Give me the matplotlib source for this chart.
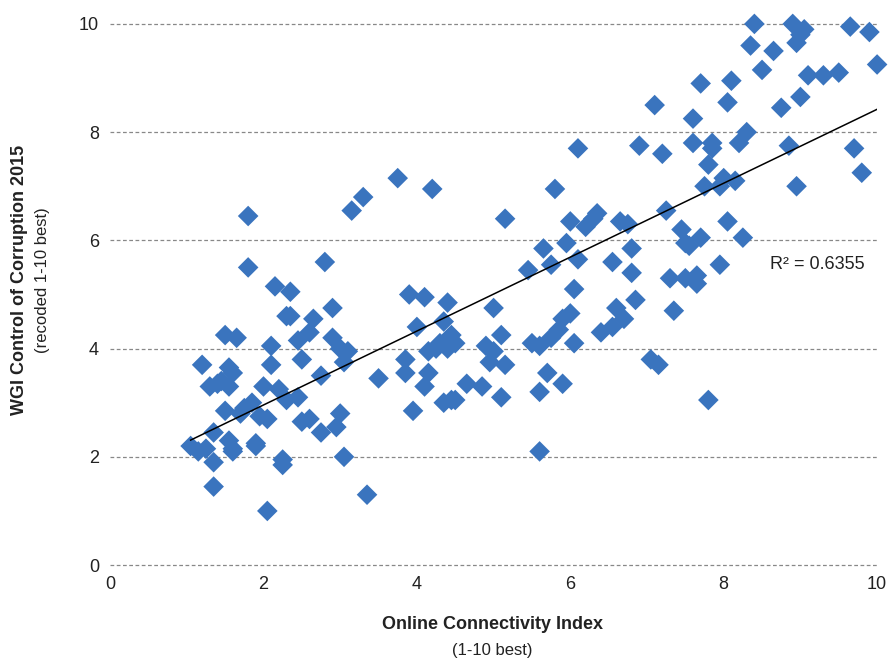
import matplotlib
matplotlib.use('Agg')
import matplotlib.pyplot as plt
import numpy as np

plt.rcParams['font.family'] = ['Liberation Sans', 'DejaVu Sans']

# online connectivity index (x) vs WGI control of corruption (y)
connectivity = [
    1.05, 1.15, 1.2, 1.25, 1.3, 1.35, 1.35, 1.35, 1.4, 1.45,
    1.5, 1.5, 1.55, 1.55, 1.55, 1.6, 1.6, 1.65, 1.6, 1.7,
    1.75, 1.8, 1.8, 1.85, 1.9, 1.9, 1.95, 2.0, 2.05, 2.05,
    2.1, 2.1, 2.15, 2.25, 2.25, 2.2, 2.3, 2.3, 2.35, 2.35,
    2.45, 2.45, 2.5, 2.5, 2.6, 2.6, 2.65, 2.75, 2.75, 2.8,
    2.9, 2.9, 2.95, 3.0, 3.0, 3.05, 3.05, 3.1, 3.15, 3.3,
    3.35, 3.5, 3.75, 3.85, 3.85, 3.9, 4.0, 3.95, 4.1, 4.1,
    4.15, 4.15, 4.2, 4.25, 4.3, 4.35, 4.35, 4.4, 4.4, 4.45,
    4.45, 4.5, 4.5, 4.65, 4.85, 4.9, 4.95, 5.0, 5.0, 5.1,
    5.1, 5.15, 5.15, 5.45, 5.5, 5.6, 5.6, 5.6, 5.65, 5.7,
    5.75, 5.75, 5.8, 5.85, 5.9, 5.9, 5.95, 6.0, 6.0, 6.05,
    6.05, 6.1, 6.1, 6.2, 6.3, 6.35, 6.4, 6.55, 6.55, 6.6,
    6.65, 6.7, 6.75, 6.8, 6.8, 6.85, 6.9, 7.05, 7.1, 7.15,
    7.2, 7.25, 7.3, 7.35, 7.45, 7.5, 7.5, 7.55, 7.6, 7.6,
    7.65, 7.65, 7.7, 7.7, 7.75, 7.8, 7.8, 7.85, 7.85, 7.95,
    7.95, 8.0, 8.05, 8.05, 8.1, 8.25, 8.15, 8.2, 8.3, 8.35,
    8.4, 8.5, 8.65, 8.75, 8.85, 8.9, 8.95, 8.95, 9.0, 9.0,
    9.05, 9.1, 9.3, 9.5, 9.65, 9.7, 9.8, 9.9, 10.0,
]
corruption = [
    2.2, 2.1, 3.7, 2.15, 3.3, 1.9, 2.45, 1.45, 3.35, 3.4,
    2.85, 4.25, 3.3, 3.65, 2.3, 2.15, 3.55, 4.2, 2.1, 2.8,
    2.9, 6.45, 5.5, 3.0, 2.25, 2.2, 2.75, 3.3, 2.7, 1.0,
    4.05, 3.7, 5.15, 1.95, 1.85, 3.25, 3.05, 4.6, 5.05, 4.6,
    3.1, 4.15, 3.8, 2.65, 4.3, 2.7, 4.55, 2.45, 3.5, 5.6,
    4.75, 4.2, 2.55, 2.8, 4.0, 2.0, 3.75, 3.95, 6.55, 6.8,
    1.3, 3.45, 7.15, 3.8, 3.55, 5.0, 4.4, 2.85, 4.95, 3.3,
    3.95, 3.55, 6.95, 4.0, 4.1, 4.5, 3.0, 4.85, 4.0, 4.25,
    3.05, 4.1, 3.05, 3.35, 3.3, 4.05, 3.75, 4.75, 3.95, 4.25,
    3.1, 6.4, 3.7, 5.45, 4.1, 4.05, 3.2, 2.1, 5.85, 3.55,
    4.2, 5.55, 6.95, 4.35, 4.55, 3.35, 5.95, 4.65, 6.35, 5.1,
    4.1, 5.65, 7.7, 6.25, 6.4, 6.5, 4.3, 5.6, 4.4, 4.75,
    6.35, 4.55, 6.3, 5.85, 5.4, 4.9, 7.75, 3.8, 8.5, 3.7,
    7.6, 6.55, 5.3, 4.7, 6.2, 5.95, 5.3, 5.9, 8.25, 7.8,
    5.2, 5.35, 6.05, 8.9, 7.0, 3.05, 7.4, 7.8, 7.7, 7.0,
    5.55, 7.15, 8.55, 6.35, 8.95, 6.05, 7.1, 7.8, 8.0, 9.6,
    10.0, 9.15, 9.5, 8.45, 7.75, 10.0, 9.65, 7.0, 9.8, 8.65,
    9.9, 9.05, 9.05, 9.1, 9.95, 7.7, 7.25, 9.85, 9.25,
]

x = np.array(connectivity)
y = np.array(corruption)

fig = plt.figure(figsize=(8.95, 6.64), dpi=100)
ax = fig.add_axes([0.123, 0.149, 0.857, 0.815])

ax.scatter(x, y, marker='D', s=110, color='#3a74be', edgecolors='none',
           zorder=3, clip_on=False)

# linear trend line
slope, intercept = np.polyfit(x, y, 1)
xs = np.array([x.min(), x.max()])
ax.plot(xs, slope * xs + intercept, color='black', lw=1.1, zorder=4)

ax.text(8.6, 5.4, 'R² = 0.6355', fontsize=13, color='#222222', va='bottom')

ax.set_xlim(0, 10)
ax.set_ylim(0, 10)
ax.set_xticks(range(0, 11, 2))
ax.set_yticks(range(0, 11, 2))
ax.tick_params(length=0, labelsize=13, colors='#222222', pad=8)
for s in ax.spines.values():
    s.set_visible(False)
ax.yaxis.grid(True, linestyle=(0, (3, 2)), color='#888888', lw=0.9,
              clip_on=False)
ax.set_axisbelow(True)

fig.text(0.55, 0.052, 'Online Connectivity Index', ha='center', fontsize=13,
         fontweight='bold', color='#222222')
fig.text(0.55, 0.013, '(1-10 best)', ha='center', fontsize=12, color='#222222')
fig.text(0.012, 0.578, 'WGI Control of Corruption 2015', rotation=90,
         va='center', fontsize=13, fontweight='bold', color='#222222')
fig.text(0.039, 0.578, '(recoded 1-10 best)', rotation=90, va='center',
         fontsize=12, color='#222222')

fig.savefig('out.png', dpi=100)
